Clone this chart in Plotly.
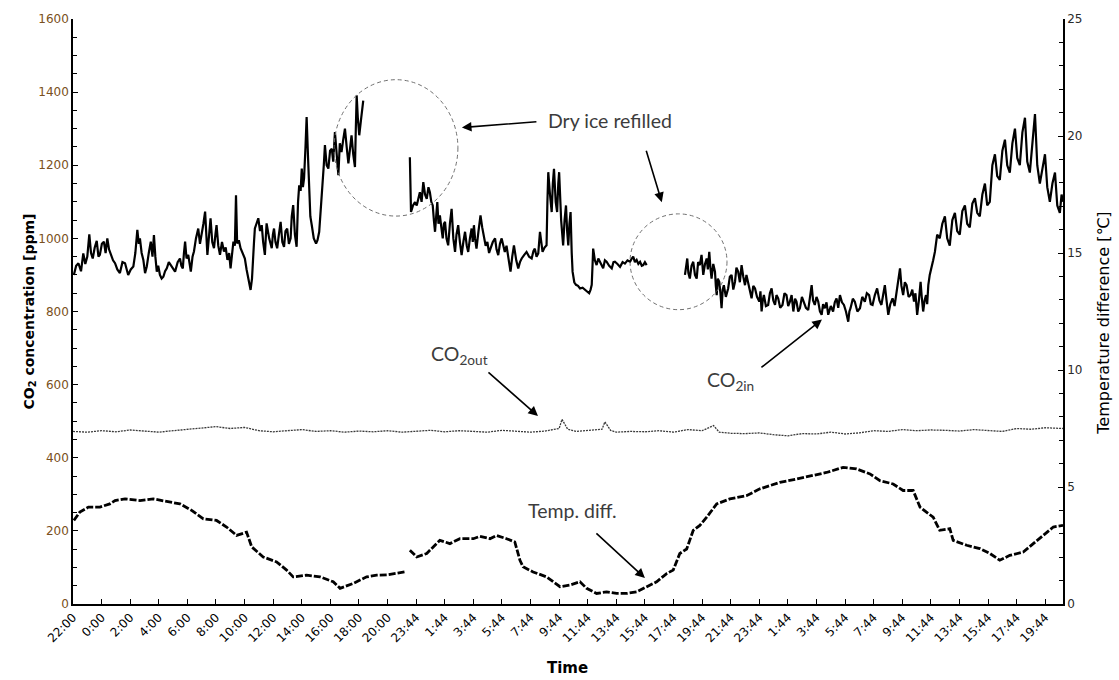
import plotly.graph_objects as go

# ---------------- data ----------------
tick_labels = ["22:00", "0:00", "2:00", "4:00", "6:00", "8:00", "10:00", "12:00", "14:00", "16:00",
               "18:00", "20:00", "23:44", "1:44", "3:44", "5:44", "7:44", "9:44", "11:44", "13:44",
               "15:44", "17:44", "19:44", "21:44", "23:44", "1:44", "3:44", "5:44", "7:44", "9:44",
               "11:44", "13:44", "15:44", "17:44", "19:44"]
tick_pos = list(range(len(tick_labels)))

# CO2 inside, (time index in label-interval units, ppm); three logged segments
co2in_seg1 = [(0.03, 900), (0.11, 925), (0.19, 932), (0.28, 910), (0.36, 959), (0.43, 930), (0.50, 950),
              (0.57, 1011), (0.63, 960), (0.69, 945), (0.76, 975), (0.83, 993), (0.89, 950), (0.94, 955),
              (1.01, 985), (1.08, 991), (1.14, 960), (1.20, 1000), (1.26, 970), (1.32, 955), (1.40, 940),
              (1.47, 932), (1.55, 915), (1.64, 905), (1.73, 935), (1.82, 932), (1.88, 910), (1.93, 900),
              (2.02, 915), (2.11, 923), (2.18, 960), (2.25, 1023), (2.30, 985), (2.34, 1000), (2.40, 960),
              (2.46, 941), (2.52, 905), (2.58, 923), (2.65, 960), (2.72, 991), (2.78, 950), (2.83, 1009),
              (2.88, 950), (2.93, 909), (2.98, 925), (3.04, 900), (3.10, 890), (3.16, 895), (3.22, 910),
              (3.28, 918), (3.35, 935), (3.42, 927), (3.50, 915), (3.57, 909), (3.66, 935), (3.74, 945),
              (3.79, 925), (3.84, 918), (3.88, 960), (3.92, 991), (3.97, 945), (4.03, 955), (4.08, 930),
              (4.12, 909), (4.18, 950), (4.23, 964), (4.30, 1000), (4.38, 1027), (4.44, 985), (4.50, 1009),
              (4.56, 1040), (4.62, 1073), (4.66, 1000), (4.70, 955), (4.76, 1010), (4.81, 1055), (4.87, 990),
              (4.93, 973), (4.98, 1010), (5.02, 1036), (5.08, 980), (5.14, 955), (5.21, 990), (5.28, 964),
              (5.34, 975), (5.40, 941), (5.46, 960), (5.51, 918), (5.56, 955), (5.61, 991), (5.66, 980),
              (5.70, 1118), (5.74, 986), (5.80, 995), (5.86, 973), (5.93, 960), (6.01, 945), (6.07, 915),
              (6.13, 891), (6.17, 875), (6.21, 859), (6.26, 890), (6.30, 932), (6.33, 990), (6.36, 1027),
              (6.42, 1040), (6.48, 1055), (6.54, 1020), (6.60, 1036), (6.65, 990), (6.71, 955), (6.74, 1000),
              (6.77, 1041), (6.86, 1000), (6.95, 973), (6.99, 1010), (7.03, 1027), (7.08, 990), (7.14, 973),
              (7.20, 1010), (7.26, 1045), (7.32, 990), (7.38, 977), (7.43, 1020), (7.49, 1027), (7.55, 985),
              (7.61, 1000), (7.65, 1060), (7.70, 1091), (7.76, 1010), (7.82, 977), (7.87, 1100), (7.91, 1145),
              (7.96, 1130), (8.00, 1191), (8.04, 1140), (8.08, 1164), (8.13, 1250), (8.17, 1332), (8.22, 1220),
              (8.26, 1136), (8.30, 1060), (8.35, 1036), (8.42, 1000), (8.50, 986), (8.55, 995), (8.61, 1018),
              (8.67, 1080), (8.73, 1145), (8.77, 1200), (8.81, 1255), (8.87, 1200), (8.93, 1191), (8.99, 1240),
              (9.05, 1245), (9.10, 1210), (9.16, 1291), (9.22, 1230), (9.28, 1173), (9.33, 1260), (9.39, 1236),
              (9.45, 1270), (9.51, 1300), (9.57, 1250), (9.63, 1205), (9.68, 1240), (9.74, 1282), (9.80, 1230),
              (9.86, 1195), (9.89, 1300), (9.92, 1391), (9.96, 1330), (10.01, 1282), (10.08, 1330), (10.15, 1377)]

co2in_seg2 = [(11.78, 1222), (11.82, 1072), (11.89, 1090), (11.96, 1099), (12.02, 1090), (12.07, 1110),
              (12.13, 1126), (12.19, 1100), (12.25, 1154), (12.31, 1120), (12.37, 1108), (12.43, 1140),
              (12.48, 1126), (12.53, 1100), (12.58, 1090), (12.62, 1050), (12.66, 1018), (12.70, 1060),
              (12.74, 1099), (12.78, 1040), (12.83, 1063), (12.88, 1030), (12.93, 1000), (12.97, 1040),
              (13.01, 1045), (13.06, 1000), (13.12, 981), (13.18, 1040), (13.24, 1081), (13.30, 1000),
              (13.36, 963), (13.41, 1010), (13.47, 1036), (13.53, 990), (13.59, 954), (13.65, 990),
              (13.71, 1018), (13.77, 980), (13.82, 963), (13.88, 1000), (13.94, 1027), (13.98, 990),
              (14.02, 1036), (14.06, 1000), (14.11, 972), (14.18, 1020), (14.25, 1063), (14.31, 1030),
              (14.37, 1009), (14.43, 980), (14.49, 990), (14.55, 960), (14.60, 972), (14.68, 990),
              (14.76, 1000), (14.81, 970), (14.87, 954), (14.93, 985), (14.99, 1000), (15.05, 975),
              (15.10, 963), (15.16, 980), (15.22, 945), (15.26, 925), (15.30, 909), (15.36, 950),
              (15.42, 981), (15.50, 940), (15.57, 918), (15.63, 935), (15.69, 945), (15.78, 955),
              (15.86, 963), (15.95, 950), (16.04, 945), (16.10, 965), (16.15, 972), (16.21, 950),
              (16.27, 959), (16.33, 1018), (16.38, 975), (16.42, 963), (16.49, 975), (16.56, 981),
              (16.59, 1100), (16.62, 1181), (16.68, 1120), (16.74, 1072), (16.78, 1150), (16.82, 1190),
              (16.88, 1100), (16.93, 1072), (16.97, 1150), (17.00, 1181), (17.07, 1050), (17.14, 981),
              (17.19, 1050), (17.24, 1090), (17.28, 1020), (17.32, 981), (17.36, 1040), (17.40, 1072),
              (17.44, 960), (17.47, 909), (17.53, 880), (17.59, 873), (17.66, 870), (17.73, 863),
              (17.82, 865), (17.90, 859), (17.97, 855), (18.05, 850), (18.10, 860), (18.14, 873),
              (18.17, 930), (18.19, 972), (18.25, 940), (18.31, 927), (18.37, 945), (18.43, 936),
              (18.48, 925), (18.54, 918), (18.60, 940), (18.66, 936), (18.75, 925), (18.84, 918),
              (18.90, 935), (18.95, 936), (19.04, 930), (19.13, 922), (19.22, 935), (19.30, 931),
              (19.39, 940), (19.48, 936), (19.54, 945), (19.59, 950), (19.65, 935), (19.71, 941),
              (19.77, 930), (19.83, 936), (19.89, 925), (19.94, 927), (20.00, 935), (20.06, 927)]

co2in_seg3 = [(21.40, 900), (21.44, 930), (21.48, 945), (21.52, 905), (21.57, 890), (21.63, 925), (21.69, 936),
              (21.75, 900), (21.81, 890), (21.86, 935), (21.92, 927), (21.98, 955), (22.04, 900), (22.10, 930),
              (22.16, 945), (22.20, 915), (22.25, 963), (22.29, 920), (22.33, 890), (22.39, 930), (22.45, 909),
              (22.48, 870), (22.51, 845), (22.55, 890), (22.60, 881), (22.64, 850), (22.68, 809), (22.72, 860),
              (22.76, 872), (22.83, 840), (22.91, 863), (22.97, 895), (23.03, 900), (23.09, 860), (23.15, 881),
              (23.20, 920), (23.26, 909), (23.32, 880), (23.38, 927), (23.44, 895), (23.50, 872), (23.55, 900),
              (23.61, 881), (23.67, 860), (23.73, 836), (23.79, 870), (23.85, 863), (23.92, 840), (24.00, 827),
              (24.04, 855), (24.08, 800), (24.12, 830), (24.16, 845), (24.23, 815), (24.31, 818), (24.37, 850),
              (24.43, 863), (24.49, 830), (24.55, 818), (24.60, 845), (24.66, 836), (24.73, 810), (24.81, 818),
              (24.88, 850), (24.95, 845), (25.01, 815), (25.07, 827), (25.13, 845), (25.19, 800), (25.25, 835),
              (25.30, 827), (25.36, 800), (25.42, 809), (25.49, 840), (25.56, 827), (25.63, 810), (25.71, 804),
              (25.77, 835), (25.83, 872), (25.88, 830), (25.94, 818), (26.00, 840), (26.06, 827), (26.12, 800),
              (26.18, 791), (26.23, 820), (26.29, 809), (26.35, 825), (26.41, 791), (26.50, 815), (26.58, 800),
              (26.64, 825), (26.70, 836), (26.76, 810), (26.82, 845), (26.89, 825), (26.96, 818), (27.03, 800),
              (27.11, 772), (27.15, 800), (27.19, 809), (27.27, 835), (27.34, 827), (27.43, 800), (27.52, 809),
              (27.60, 840), (27.69, 827), (27.76, 850), (27.84, 845), (27.90, 820), (27.96, 818), (28.04, 845),
              (28.12, 863), (28.20, 830), (28.27, 818), (28.33, 845), (28.39, 872), (28.45, 830), (28.51, 791),
              (28.58, 820), (28.66, 836), (28.73, 815), (28.80, 854), (28.86, 880), (28.92, 918), (28.97, 870),
              (29.03, 845), (29.09, 880), (29.15, 872), (29.22, 840), (29.29, 845), (29.35, 860), (29.41, 827),
              (29.46, 850), (29.52, 791), (29.58, 830), (29.64, 881), (29.68, 840), (29.73, 800), (29.78, 830),
              (29.83, 845), (29.87, 820), (29.91, 872), (29.96, 900), (30.02, 918), (30.08, 940), (30.14, 963),
              (30.22, 1010), (30.31, 1000), (30.40, 1040), (30.49, 1060), (30.57, 1000), (30.66, 980),
              (30.75, 1050), (30.84, 1070), (30.92, 1020), (31.01, 1010), (31.10, 1075), (31.19, 1090),
              (31.27, 1040), (31.36, 1030), (31.45, 1095), (31.54, 1110), (31.62, 1070), (31.71, 1060),
              (31.80, 1120), (31.89, 1150), (31.97, 1090), (32.06, 1100), (32.15, 1200), (32.24, 1230),
              (32.32, 1170), (32.41, 1160), (32.50, 1240), (32.59, 1270), (32.67, 1200), (32.76, 1180),
              (32.85, 1260), (32.94, 1300), (33.02, 1220), (33.11, 1200), (33.20, 1290), (33.29, 1330),
              (33.37, 1210), (33.46, 1180), (33.55, 1250), (33.64, 1340), (33.72, 1200), (33.81, 1150),
              (33.90, 1190), (33.99, 1230), (34.07, 1140), (34.16, 1100), (34.25, 1150), (34.34, 1180),
              (34.42, 1090), (34.51, 1070), (34.57, 1120), (34.62, 1100)]

co2out_t = [0, 0.5, 1, 1.5, 2, 2.5, 3, 3.5, 4, 4.5, 5, 5.5, 6, 6.5, 7, 7.5, 8, 8.5, 9, 9.5, 10,
            10.5, 11, 11.5, 12, 12.5, 13, 13.5, 14, 14.5, 15, 15.5, 16, 16.5, 17, 17.1, 17.3, 17.6,
            18, 18.5, 18.6, 18.8, 19, 19.5, 20, 20.5, 21, 21.5, 22, 22.4, 22.6, 23, 23.5, 24, 24.5,
            25, 25.5, 26, 26.5, 27, 27.5, 28, 28.5, 29, 29.5, 30, 30.5, 31, 31.5, 32, 32.5, 33,
            33.5, 34, 34.62]
co2out_ppm = [472, 470, 474, 471, 476, 473, 470, 474, 478, 482, 485, 480, 483, 474, 471, 474, 477,
              472, 474, 470, 473, 471, 474, 470, 472, 475, 471, 474, 472, 470, 475, 472, 470, 473,
              480, 505, 478, 472, 474, 478, 498, 475, 470, 472, 471, 474, 470, 477, 474, 488, 470,
              467, 466, 468, 463, 460, 466, 465, 470, 465, 468, 474, 472, 477, 474, 476, 475, 473,
              477, 475, 472, 480, 478, 482, 480]

temp_seg1 = [(0.03, 3.57), (0.24, 3.93), (0.54, 4.14), (0.94, 4.14), (1.29, 4.28), (1.47, 4.42), (1.82, 4.49),
             (2.34, 4.42), (2.81, 4.49), (3.28, 4.39), (3.74, 4.28), (4.15, 4.0), (4.56, 3.64), (5.02, 3.57),
             (5.37, 3.29), (5.72, 2.93), (6.07, 3.07), (6.25, 2.44), (6.65, 2.01), (7.12, 1.80), (7.47, 1.45),
             (7.70, 1.16), (8.17, 1.23), (8.64, 1.16), (9.10, 0.95), (9.34, 0.67), (9.80, 0.88), (10.27, 1.16),
             (10.62, 1.23), (11.0, 1.25), (11.3, 1.30), (11.6, 1.37)]
temp_seg2 = [(11.78, 2.30), (12.02, 2.01), (12.37, 2.16), (12.83, 2.72), (13.18, 2.58), (13.53, 2.79),
             (14.00, 2.79), (14.23, 2.89), (14.58, 2.79), (14.81, 2.93), (15.16, 2.79), (15.45, 2.65),
             (15.63, 1.87), (15.74, 1.59), (16.09, 1.37), (16.56, 1.16), (17.03, 0.74), (17.38, 0.81),
             (17.73, 0.95), (17.96, 0.67), (18.31, 0.45), (18.66, 0.52), (19.01, 0.45), (19.36, 0.45),
             (19.71, 0.52), (20.06, 0.74), (20.41, 0.95), (20.76, 1.30), (20.99, 1.45), (21.22, 2.16),
             (21.46, 2.35), (21.69, 3.15), (21.92, 3.36), (22.16, 3.71), (22.51, 4.28), (22.97, 4.49),
             (23.55, 4.63), (24.02, 4.92), (24.72, 5.20), (25.30, 5.34), (25.88, 5.48), (26.35, 5.62),
             (26.93, 5.84), (27.40, 5.77), (27.87, 5.56), (28.22, 5.27), (28.68, 5.13), (29.03, 4.85),
             (29.38, 4.85), (29.62, 4.14), (30.08, 3.71), (30.31, 3.15), (30.66, 3.22), (30.78, 2.72),
             (31.25, 2.51), (31.71, 2.37), (32.06, 2.16), (32.41, 1.87), (32.76, 2.08), (33.23, 2.22),
             (33.58, 2.58), (33.93, 2.93), (34.28, 3.29), (34.62, 3.36)]


def join(*segments):
    """Concatenate (t, value) segments, leaving a gap between them."""
    xs, ys = [], []
    for i, seg in enumerate(segments):
        if i:
            xs.append(None)
            ys.append(None)
        xs += [p[0] for p in seg]
        ys += [p[1] for p in seg]
    return xs, ys


co2in_t, co2in_ppm = join(co2in_seg1, co2in_seg2, co2in_seg3)
temp_t, temp_c = join(temp_seg1, temp_seg2)

# ---------------- figure ----------------
AX_FONT = "DejaVu Sans, Verdana, sans-serif"
NOTE_FONT = "Lato, 'Open Sans', sans-serif"

fig = go.Figure()
fig.add_trace(go.Scatter(x=co2out_t, y=co2out_ppm, mode="lines", name="CO2out",
                         line=dict(color="#3a3a3a", width=1.3, dash="2px,1px"), connectgaps=False))
fig.add_trace(go.Scatter(x=co2in_t, y=co2in_ppm, mode="lines", name="CO2in",
                         line=dict(color="black", width=2.2), connectgaps=False))
fig.add_trace(go.Scatter(x=temp_t, y=temp_c, mode="lines", name="Temp. diff.", yaxis="y2",
                         line=dict(color="black", width=2.8, dash="7px,2px"), connectgaps=False))

fig.update_layout(
    width=1119, height=680,
    margin=dict(l=73, r=56, t=16, b=76),
    paper_bgcolor="white", plot_bgcolor="white",
    showlegend=False,
    xaxis=dict(range=[0, 34.62], tickmode="array", tickvals=tick_pos, ticktext=tick_labels,
               tickangle=-45, ticks="inside", ticklen=5, tickwidth=1.3, tickcolor="black",
               showline=True, linecolor="black", linewidth=1.6, showgrid=False, zeroline=False,
               tickfont=dict(family=AX_FONT, size=12, color="black")),
    yaxis=dict(range=[0, 1600], dtick=200, ticks="inside", ticklen=5, tickwidth=1.2,
               tickcolor="black", showline=True, linecolor="black", linewidth=1.6,
               showgrid=False, zeroline=False,
               minor=dict(dtick=50, ticks="inside", ticklen=4, tickcolor="black", tickwidth=1),
               tickfont=dict(family=AX_FONT, size=12, color="#7a5020")),
    yaxis2=dict(range=[0, 25], dtick=5, overlaying="y", side="right", anchor="x",
                ticks="inside", ticklen=5, tickwidth=1.2, tickcolor="black",
                showline=True, linecolor="black", linewidth=1.6, showgrid=False, zeroline=False,
                minor=dict(dtick=1, ticks="inside", ticklen=4, tickcolor="black", tickwidth=1),
                tickfont=dict(family=AX_FONT, size=12, color="#2a2a2a")),
)

# axis titles as text annotations
fig.add_annotation(xref="paper", yref="paper", x=0, y=0.5, xshift=-55, textangle=-90,
                   text="<b>CO<sub>2</sub> concentration [ppm]</b>", showarrow=False,
                   font=dict(family=AX_FONT, size=14, color="black"))
fig.add_annotation(xref="paper", yref="paper", x=1, y=0.48, xshift=52, textangle=-90,
                   text="Temperature difference [℃]", showarrow=False,
                   font=dict(family=AX_FONT, size=16, color="black"))
fig.add_annotation(xref="paper", yref="paper", x=0.499, y=0, yshift=-75,
                   text="<b>Time</b>", showarrow=False,
                   font=dict(family=AX_FONT, size=15, color="black"))

# dashed circles marking dry-ice refills
for x0, x1, y0, y1 in [(9.13, 13.46, 1061, 1434), (19.48, 22.87, 805, 1067)]:
    fig.add_shape(type="circle", xref="x", yref="y", x0=x0, x1=x1, y0=y0, y1=y1,
                  line=dict(color="#707070", width=1, dash="4px,3px"))

# labels
note_font = dict(family=NOTE_FONT, size=19.5, color="#3c3c3c")
fig.add_annotation(x=18.78, y=1322, text="Dry ice refilled", showarrow=False, font=note_font)
fig.add_annotation(x=13.53, y=680, text="CO<sub>2out</sub>", showarrow=False, font=note_font)
fig.add_annotation(x=23.0, y=610, text="CO<sub>2in</sub>", showarrow=False, font=note_font)
fig.add_annotation(x=17.48, y=256, text="Temp. diff.", showarrow=False, font=note_font)

# arrows (head at data point, tail offset in pixels)
for hx, hy, ax, ay in [(13.60, 1303, 76, -6), (20.59, 1099, -16, -53), (16.26, 514, -51, -45),
                       (26.19, 778, -62, 49), (20.0, 71, -50, -46)]:
    fig.add_annotation(x=hx, y=hy, ax=ax, ay=ay, text="", showarrow=True, arrowhead=2,
                       arrowsize=1.2, arrowwidth=1.6, arrowcolor="black")

fig.write_html("out.html")
